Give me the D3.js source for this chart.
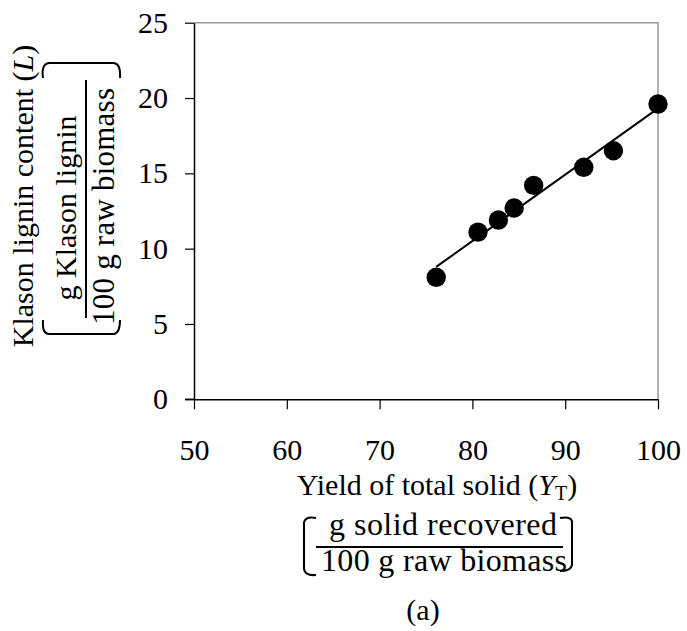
<!DOCTYPE html>
<html>
<head>
<meta charset="utf-8">
<script src="https://cdn.jsdelivr.net/npm/d3@7/dist/d3.min.js"></script>
<style>
  html, body { margin: 0; padding: 0; background: #fff; }
  svg { display: block; }
  text { font-family: "Liberation Serif", "Times New Roman", serif; fill: #000; }
</style>
</head>
<body>
<svg id="chart" width="687" height="631"></svg>
<script>
// ---- data ----
const yieldTotal = [76.1, 80.6, 82.8, 84.5, 86.6, 92.0, 95.2, 100.0];
const klasonLignin = [8.1, 11.1, 11.9, 12.7, 14.2, 15.4, 16.5, 19.6];
const xTicks = [50, 60, 70, 80, 90, 100];
const yTicks = [0, 5, 10, 15, 20, 25];
const xDomain = [50, 100];
const yDomain = [0, 25];

(function () {
const svg = d3.select("#chart");
const FS = 30;
const pL = 194, pR = 658, pT = 22.7, pB = 399.3;

const x = d3.scaleLinear().domain(xDomain).range([pL, pR]);
const y = d3.scaleLinear().domain(yDomain).range([pB, pT]);

// frame (top & right, grey)
svg.append("path")
  .attr("d", `M${pL},${pT}H${pR}V${pB}`)
  .attr("fill", "none").attr("stroke", "#999").attr("stroke-width", 1.5);

// axes
const xAxis = d3.axisBottom(x).tickValues(xTicks).tickSize(10).tickPadding(29).tickSizeOuter(0);
const yAxis = d3.axisLeft(y).tickValues(yTicks).tickSize(9).tickPadding(17).tickSizeOuter(0);

const gx = svg.append("g").attr("transform", `translate(0,${pB})`).call(xAxis);
const gy = svg.append("g").attr("transform", `translate(${pL},0)`).call(yAxis);
[gx, gy].forEach(g => {
  g.selectAll("path.domain").attr("stroke", "#000").attr("stroke-width", 1.5);
  g.selectAll(".tick line").attr("stroke", "#000").attr("stroke-width", 1.2);
  g.selectAll(".tick text").style("font-family", "Liberation Serif").style("font-size", FS + "px").attr("fill", "#000");
});
svg.append("line").attr("x1", pL - 9).attr("x2", pL).attr("y1", pB).attr("y2", pB)
  .attr("stroke", "#000").attr("stroke-width", 1.5);

// regression line (least squares from the data)
const n = yieldTotal.length;
const mx = d3.mean(yieldTotal), my = d3.mean(klasonLignin);
let sxy = 0, sxx = 0;
for (let i = 0; i < n; i++) {
  sxy += (yieldTotal[i] - mx) * (klasonLignin[i] - my);
  sxx += (yieldTotal[i] - mx) ** 2;
}
const slope = sxy / sxx, icpt = my - slope * mx;
const xr = d3.extent(yieldTotal);
svg.append("line")
  .attr("x1", x(xr[0])).attr("y1", y(icpt + slope * xr[0]))
  .attr("x2", x(xr[1])).attr("y2", y(icpt + slope * xr[1]))
  .attr("stroke", "#000").attr("stroke-width", 2);

// points
svg.append("g").selectAll("circle")
  .data(yieldTotal.map((v, i) => [v, klasonLignin[i]]))
  .join("circle")
  .attr("cx", d => x(d[0])).attr("cy", d => y(d[1])).attr("r", 9.7)
  .attr("fill", "#000");

// ---- x-axis title ----
const xt = svg.append("text").attr("x", 437).attr("y", 495).attr("text-anchor", "middle")
  .style("font-size", FS + "px");
xt.append("tspan").text("Yield of total solid (");
xt.append("tspan").attr("font-style", "italic").text("Y");
xt.append("tspan").attr("font-size", "20px").attr("dy", 5).text("T");
xt.append("tspan").attr("dy", -5).text(")");

svg.append("text").attr("x", 329).attr("y", 535)
  .attr("textLength", 228).attr("lengthAdjust", "spacing")
  .style("font-size", "32px").text("g solid recovered");
svg.append("line").attr("x1", 316).attr("x2", 563).attr("y1", 547).attr("y2", 547)
  .attr("stroke", "#000").attr("stroke-width", 2);
svg.append("text").attr("x", 321).attr("y", 571)
  .attr("textLength", 246).attr("lengthAdjust", "spacing")
  .style("font-size", "32px").text("100 g raw biomass");
svg.append("text").attr("x", 423).attr("y", 620).attr("text-anchor", "middle")
  .style("font-size", FS + "px").text("(a)");

// x brackets
const br = "#000";
svg.append("path")
  .attr("d", "M316,518 Q306,516 304,522 V569 Q305,576 316,575")
  .attr("fill", "none").attr("stroke", br).attr("stroke-width", 2);
svg.append("path")
  .attr("d", "M560,518 Q570,516 572,521 V565 Q571,571 560,571")
  .attr("fill", "none").attr("stroke", br).attr("stroke-width", 2);

// ---- y-axis title ----
const yt = svg.append("text").attr("transform", "translate(33,196) rotate(-90)")
  .attr("text-anchor", "middle").style("font-size", FS + "px");
yt.append("tspan").text("Klason lignin content (");
yt.append("tspan").attr("font-style", "italic").text("L");
yt.append("tspan").text(")");

svg.append("text").attr("transform", "translate(76,208) rotate(-90)")
  .attr("text-anchor", "middle").style("font-size", FS + "px").text("g Klason lignin");
svg.append("line").attr("x1", 86).attr("x2", 86).attr("y1", 80).attr("y2", 318)
  .attr("stroke", "#000").attr("stroke-width", 2);
svg.append("text").attr("transform", "translate(114,325) rotate(-90)")
  .attr("textLength", 237).attr("lengthAdjust", "spacing")
  .style("font-size", "31px").text("100 g raw biomass");

// y brackets
svg.append("path")
  .attr("d", "M43,78 Q41,64 49,63 H114 Q121,64 120,78")
  .attr("fill", "none").attr("stroke", br).attr("stroke-width", 2);
svg.append("path")
  .attr("d", "M43,320 Q42,334 49,334 H114 Q120,333 120,320")
  .attr("fill", "none").attr("stroke", br).attr("stroke-width", 2);
})();
</script>
</body>
</html>
